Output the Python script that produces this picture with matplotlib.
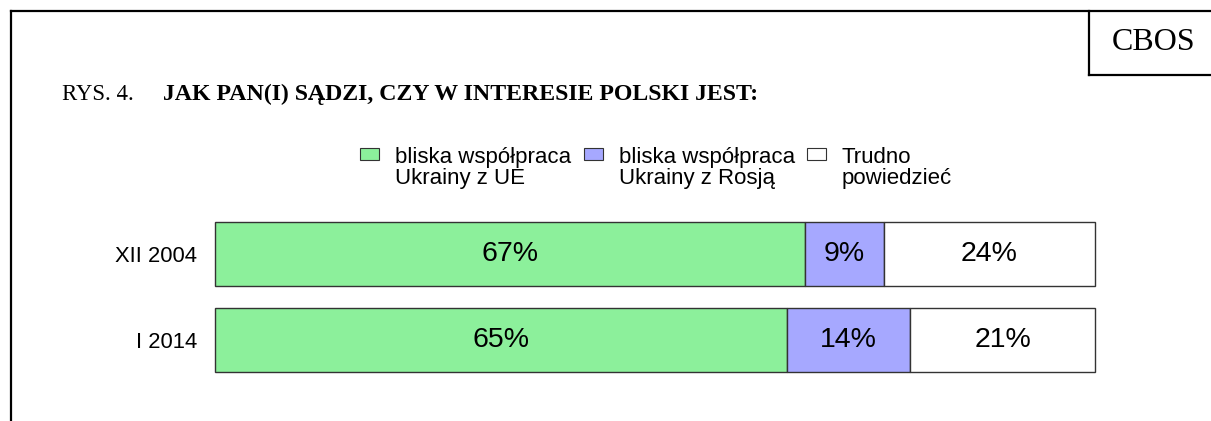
import matplotlib
matplotlib.use("Agg")
import matplotlib.pyplot as plt
from matplotlib.patches import Rectangle

categories = ["XII 2004", "I 2014"]
series_names = ["bliska współpraca\nUkrainy z UE",
                "bliska współpraca\nUkrainy z Rosją",
                "Trudno\npowiedzieć"]
values = [[67, 65], [9, 14], [24, 21]]
colors = ["#8CF09B", "#A6A8FF", "#FFFFFF"]

W, H = 1211, 421
fig = plt.figure(figsize=(W / 100, H / 100), dpi=100)

def fx(px):
    return px / W

def fy(py):
    return 1 - py / H

# frame lines
fig.add_artist(plt.Line2D([fx(11), fx(11)], [fy(11), 0], color="black", lw=1.6))
fig.add_artist(plt.Line2D([fx(11), 1], [fy(11), fy(11)], color="black", lw=1.6))
fig.add_artist(plt.Line2D([fx(1089), fx(1089)], [fy(11), fy(75)], color="black", lw=1.6))
fig.add_artist(plt.Line2D([fx(1089), 1], [fy(75), fy(75)], color="black", lw=1.6))
fig.text(fx(1154), fy(42), "CBOS", family="Liberation Serif", fontsize=23,
         ha="center", va="center")

fig.text(fx(62), fy(94), "RYS. 4.", family="Liberation Serif", fontsize=16.4,
         ha="left", va="center")
fig.text(fx(163), fy(94), "JAK PAN(I) SĄDZI, CZY W INTERESIE POLSKI JEST:",
         family="Liberation Serif", fontsize=17.2, fontweight="bold",
         ha="left", va="center")

# legend
leg_x = [360, 584, 807]
for i, name in enumerate(series_names):
    fig.add_artist(Rectangle((fx(leg_x[i]), fy(160)), 19 / W, 12 / H,
                             facecolor=colors[i], edgecolor="#333333", lw=0.8))
    fig.text(fx(leg_x[i] + 35), fy(168), name, family="Liberation Sans",
             fontsize=16, ha="left", va="center", linespacing=0.97)

ax = fig.add_axes([fx(215), fy(383), 880 / W, 172 / H])
y = list(range(len(categories)))
left = [0] * len(categories)
for s in range(len(values)):
    ax.barh(y, values[s], left=left, height=64 / 86, color=colors[s],
            edgecolor="#333333", linewidth=1, clip_on=False)
    for j, v in enumerate(values[s]):
        ax.text(left[j] + v / 2, y[j], f"{v}%", ha="center", va="center",
                family="Liberation Sans", fontsize=20.5)
    left = [left[j] + values[s][j] for j in range(len(left))]

ax.set_xlim(0, 100)
ax.set_ylim(1.5, -0.5)
ax.set_yticks(y)
ax.set_yticklabels(categories, family="Liberation Sans", fontsize=15.8)
ax.tick_params(axis="y", length=0, pad=13)
ax.set_xticks([])
for sp in ax.spines.values():
    sp.set_visible(False)

fig.savefig("out.png", dpi=100)
